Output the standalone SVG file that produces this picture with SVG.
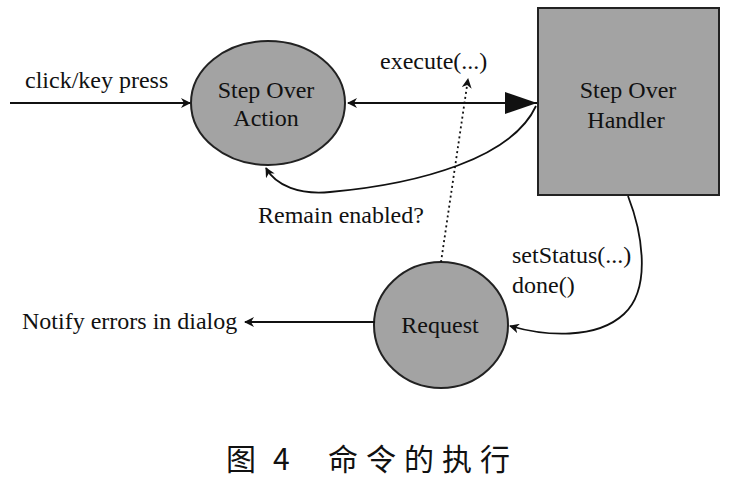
<svg xmlns="http://www.w3.org/2000/svg" width="731" height="479" viewBox="0 0 731 479">
<style>
.node{fill:#a3a3a3;stroke:#222;stroke-width:2}
.t{font-family:"Liberation Serif","Times New Roman",serif;font-size:24px;fill:#111}
.c{text-anchor:middle}
.ln{fill:none;stroke:#111;stroke-width:1.8}
.cap{font-family:"Noto Sans CJK SC",serif;font-size:30px;fill:#111}
</style>
<defs>
<marker id="ah" viewBox="0 0 10 10" refX="9" refY="5" markerWidth="10" markerHeight="10" markerUnits="userSpaceOnUse" orient="auto"><path d="M0,0 L10,5 L0,10 L3,5 z" fill="#111"/></marker>
<marker id="big" viewBox="0 0 10 10" refX="10" refY="5" markerWidth="32" markerHeight="22" markerUnits="userSpaceOnUse" orient="auto" preserveAspectRatio="none"><path d="M0,0 L10,5 L0,10 z" fill="#111"/></marker>
</defs>
<rect width="731" height="479" fill="#fff"/>
<g id="action"><ellipse class="node" cx="268" cy="103" rx="77" ry="62"/><text class="t c" x="266" y="98">Step Over</text><text class="t c" x="266" y="126">Action</text></g>
<g id="handler"><rect class="node" x="538" y="8" width="181" height="187"/><text class="t c" x="628" y="98">Step Over</text><text class="t c" x="626" y="128">Handler</text></g>
<g id="request"><ellipse class="node" cx="441" cy="325" rx="67" ry="63"/><text class="t c" x="440" y="333">Request</text></g>
<g id="connectors">
<line class="ln" x1="10" y1="103" x2="190" y2="103" marker-end="url(#ah)"/>
<line class="ln" x1="505" y1="103" x2="348" y2="103" marker-end="url(#ah)"/>
<line class="ln" x1="500" y1="103" x2="537" y2="103" marker-end="url(#big)"/>
<path class="ln" d="M536,106 C512,158 420,184 330,192 C300,195 276,186 266,168" marker-end="url(#ah)"/>
<line class="ln" x1="441" y1="262" x2="468" y2="79" stroke-dasharray="2,3" marker-end="url(#ah)"/>
<path class="ln" d="M628,196 C642,232 652,288 624,314 C596,340 545,336 510,326" marker-end="url(#ah)"/>
<line class="ln" x1="375" y1="322" x2="245" y2="322" marker-end="url(#ah)"/>
</g>
<g id="labels">
<text class="t" x="25" y="88">click/key press</text>
<text class="t" x="380" y="69">execute(...)</text>
<text class="t" x="258" y="223">Remain enabled?</text>
<text class="t" x="512" y="263">setStatus(...)</text>
<text class="t" x="512" y="293">done()</text>
<text class="t" x="22" y="329">Notify errors in dialog</text>
<text class="cap" x="226" y="470">图</text>
<text class="cap" x="273" y="470">4</text>
<text class="cap" x="328" y="470" letter-spacing="8">命令的执行</text>
</g>
</svg>
